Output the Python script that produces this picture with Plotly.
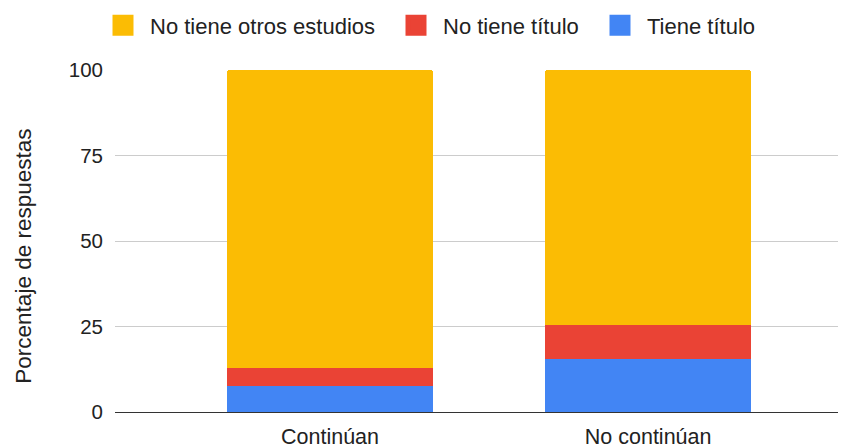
import plotly.graph_objects as go

categories = ["Continúan", "No continúan"]
tiene_titulo = [7.6, 15.4]
no_tiene_titulo = [5.4, 10.1]
no_tiene_otros = [87.0, 74.5]
y_ticks = [0, 25, 50, 75, 100]

series = [
    ("Tiene título", tiene_titulo, "#4285f4"),
    ("No tiene título", no_tiene_titulo, "#ea4335"),
    ("No tiene otros estudios", no_tiene_otros, "#fbbc04"),
]

FONT = "Arial, Liberation Sans, sans-serif"
TXT = "#222222"
ITEMW = 44

fig = go.Figure()
for name, vals, color in series:
    fig.add_trace(go.Bar(x=categories, y=vals, name=name, showlegend=False,
                         marker=dict(color=color, line=dict(width=0)), width=0.648))

# one legend per entry so each can be placed like the original
legend_ids = {"No tiene otros estudios": "legend", "No tiene título": "legend2", "Tiene título": "legend3"}
text_starts = {"legend": 150, "legend2": 443, "legend3": 647}
for name, vals, color in series:
    fig.add_trace(go.Scatter(x=[None], y=[None], name=name, mode="markers",
                             legend=legend_ids[name],
                             marker=dict(symbol="square", size=16, color=color,
                                         line=dict(width=5, color=color)),
                             showlegend=True))

leg_common = dict(orientation="h", xanchor="left", xref="container",
                  y=0.961, yanchor="middle", yref="container",
                  font=dict(size=22, color=TXT), itemwidth=ITEMW, itemsizing="trace",
                  bgcolor="rgba(0,0,0,0)", borderwidth=0)

layout_legends = {}
for lid, ts in text_starts.items():
    layout_legends[lid] = dict(leg_common, x=(ts - 8 - (ITEMW + 10)) / 850)

fig.update_layout(
    barmode="stack",
    barcornerradius=3,
    width=850, height=448,
    margin=dict(l=107, r=20, t=62, b=44, autoexpand=False),
    paper_bgcolor="white", plot_bgcolor="white",
    font=dict(family=FONT, size=21, color=TXT),
    hovermode=False,
    annotations=[dict(text="Porcentaje de respuestas", textangle=-90,
                      xref="paper", yref="paper", x=-0.127, y=0.4547,
                      xanchor="center", yanchor="middle", showarrow=False,
                      font=dict(size=22.5, color=TXT))],
    **layout_legends,
)
fig.update_xaxes(range=[-0.676, 1.597], showgrid=False, showline=True, automargin=False,
                 linecolor="#333333", linewidth=1, ticks="", tickfont=dict(size=21.5),
                 ticklabelstandoff=5)
fig.update_yaxes(range=[0, 100], tickvals=y_ticks, gridcolor="#cccccc", gridwidth=1,
                 automargin=False,
                 zeroline=False, showline=False, ticklabelstandoff=11,
                 tickfont=dict(size=20.5))

fig.write_html("out.html")
